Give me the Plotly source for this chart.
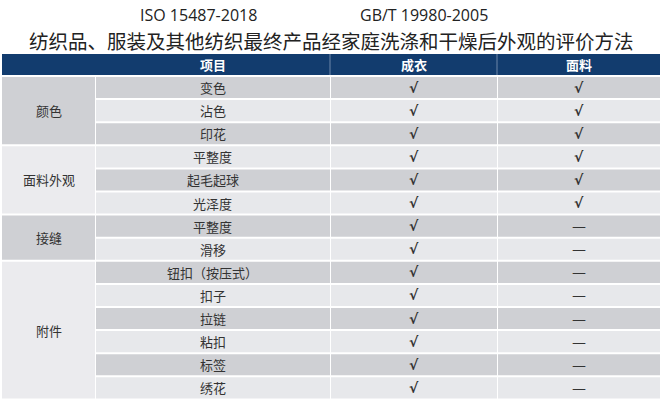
import plotly.graph_objects as go

title_codes = ["ISO 15487-2018", "GB/T 19980-2005"]
title_main = "纺织品、服装及其他纺织最终产品经家庭洗涤和干燥后外观的评价方法"
headers = ["项目", "成衣", "面料"]
groups = ["颜色", "面料外观", "接缝", "附件"]
group_sizes = [3, 3, 2, 6]
items = ["变色", "沾色", "印花", "平整度", "起毛起球", "光泽度", "平整度", "滑移",
         "钮扣（按压式）", "扣子", "拉链", "粘扣", "标签", "绣花"]
garment = ["√"] * 14
fabric = ["√"] * 6 + ["—"] * 8

W, H = 662, 400
col_x = [2, 95, 330, 497, 660]
head_top, head_bot = 54, 75
row0, rh, gap = 77, 23.1, 2
navy = "#123c6e"
dark, light = "#cfd0d4", "#e7e8eb"
font = "Noto Sans CJK SC"

shapes, ann = [], []
def rect(x0, x1, y0, y1, c):
    shapes.append(dict(type="rect", xref="x", yref="y", x0=x0, x1=x1, y0=y0, y1=y1,
                       fillcolor=c, line=dict(width=0), layer="below"))
def text(x, y, t, size=13, color="#333", family=font):
    ann.append(dict(x=x, y=y, xref="x", yref="y", text=t, showarrow=False,
                    font=dict(size=size, color=color, family=family)))

rect(col_x[0], col_x[4], head_top, head_bot, navy)
for i in range(2, 4):
    shapes.append(dict(type="line", xref="x", yref="y", x0=col_x[i], x1=col_x[i],
                       y0=head_top, y1=head_bot, line=dict(color="#6d86a8", width=1)))
for k in range(3):
    text((col_x[k + 1] + col_x[k + 2]) / 2, (head_top + head_bot) / 2,
         "<b>" + headers[k] + "</b>", 13, "white")

for i, (it, g, f) in enumerate(zip(items, garment, fabric)):
    y0 = row0 + i * rh
    y1 = y0 + rh - gap
    c = dark if i % 2 == 0 else light
    for k in range(1, 4):
        rect(col_x[k] + 1, col_x[k + 1], y0, y1, c)
    yc = (y0 + y1) / 2
    text((col_x[1] + col_x[2]) / 2, yc, it)
    text((col_x[2] + col_x[3]) / 2, yc, "<b>" + g + "</b>", 14, "#333", "DejaVu Sans")
    text((col_x[3] + col_x[4]) / 2, yc, "<b>" + f + "</b>" if f == "√" else f, 14, "#333", "DejaVu Sans")

start = 0
for j, (g, n) in enumerate(zip(groups, group_sizes)):
    y0 = row0 + start * rh
    y1 = row0 + (start + n) * rh - gap
    rect(col_x[0], col_x[1], y0, y1, dark if j % 2 == 0 else "#ebebee")
    text((col_x[0] + col_x[1]) / 2, (y0 + y1) / 2, g)
    start += n

text(198, 15, title_codes[0], 16, "#222", "Open Sans")
text(424, 15, title_codes[1], 16, "#222", "Open Sans")
text(331, 40, title_main, 19.5, "#222")

fig = go.Figure()
fig.add_trace(go.Scatter(x=[0, W], y=[0, H], mode="markers", marker=dict(opacity=0),
                         hoverinfo="skip", showlegend=False))
fig.update_layout(width=W, height=H, margin=dict(l=0, r=0, t=0, b=0),
                  paper_bgcolor="white", plot_bgcolor="white",
                  xaxis=dict(range=[0, W], visible=False, fixedrange=True),
                  yaxis=dict(range=[H, 0], visible=False, fixedrange=True),
                  shapes=shapes, annotations=ann)
fig.write_html("out.html", config={"displayModeBar": False},
               post_script="document.body.style.margin='0';document.body.style.overflow='hidden';")
